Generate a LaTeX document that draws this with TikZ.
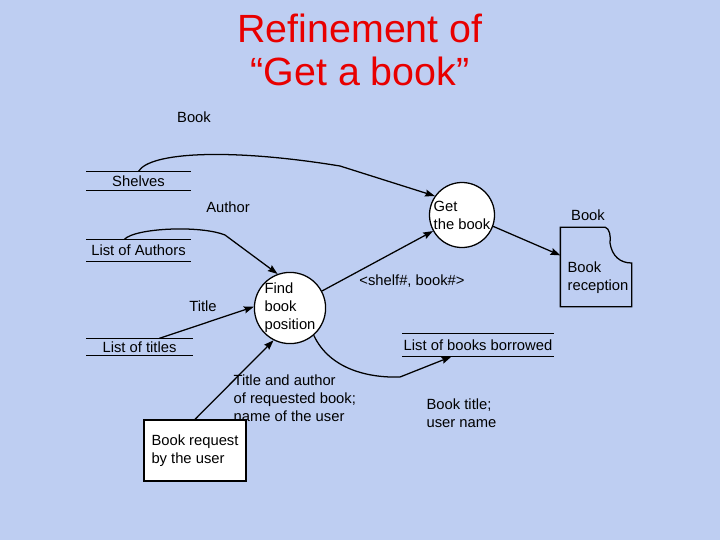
\documentclass[tikz,border=0pt]{standalone}
\usepackage{fontspec}
\setmainfont{Liberation Sans}
\usepackage{xcolor}
\usetikzlibrary{arrows.meta,positioning,calc}
\definecolor{paper}{RGB}{190,206,242}
\definecolor{titlered}{RGB}{232,0,0}

\begin{document}
\begin{tikzpicture}[x=0.025cm,y=-0.025cm,line width=0.9pt,
  font=\fontsize{10.5}{12.8}\selectfont,>={Stealth[length=7pt,width=5pt,inset=1pt]},
  proc/.style={draw,circle,fill=white,inner sep=0pt,align=left},
  store/.style={minimum height=#1,inner sep=0pt},
  lbl/.style={align=left,inner sep=0pt}]
  % background and title
  \fill[paper] (0,0) rectangle (720,540);
  \node[titlered,align=center,font=\fontsize{28}{31}\selectfont] (title) at (360,50) {Refinement of\\“Get a book”};

  % processes
  \node[proc,minimum size=1.625cm] (get) at (462,215) {Get\\the book};
  \node[proc,minimum size=1.75cm] (find) at (290,308) {Find\\book\\position};

  % data stores
  \node[store=0.45cm,minimum width=2.575cm] (shelves) at (138.5,181) {Shelves};
  \node[store=0.525cm,minimum width=2.575cm] (authors) at (138.5,250.5) {List of Authors};
  \node[store=0.4cm,minimum width=2.625cm] (titles) at (139.5,347) {List of titles};
  \node[store=0.55cm,minimum width=3.75cm] (borrowed) at (478,345) {List of books borrowed};
  \foreach \s in {shelves,authors,titles,borrowed}
    \draw (\s.north west) -- (\s.north east) (\s.south west) -- (\s.south east);

  % terminators
  \node[draw,fill=white,minimum width=2.55cm,minimum height=1.525cm,align=left] (request) at (195,450.5) {Book request\\by the user};
  \node[minimum width=1.75cm,minimum height=1.95cm,inner sep=0pt] (recv) at (596,267) {};
  \draw (recv.north west) -- ++(45,0) .. controls +(4,1) and (611,236) .. (610,243)
    .. controls (612,256) and (620,263) .. (recv.east |- 0,263) -- (recv.south east) -- (recv.south west) -- cycle;
  \node[lbl,anchor=west] (recvtxt) at (567,278) {Book\\reception};

  % flows
  \draw[->] (shelves.north) .. controls (150,152) and (230,148) .. (340,166) -- (get.145);
  \draw[->] ($(authors.north west)+(38,0)$) .. controls (135,228) and (200,225) .. (225,235) -- (find.110);
  \draw[->] ($(titles.north west)+(73,0)$) -- (find.178);
  \draw[->] (request.north) -- (find.243);
  \draw[->] (find.28) -- (get.209);
  \draw[->] (find.311) .. controls (330,370) and (370,378) .. (400,377) -- ($(borrowed.south west)+(49,0)$);
  \draw[->] (get.340) -- ($(recv.north west)+(0,28)$);

  % flow labels
  \node[lbl] (lbook) at (194,117) {Book};
  \node[lbl] (lauthor) at (228,207) {Author};
  \node[lbl] (ltitle) at (203,306) {Title};
  \node[lbl] (lshelf) at (412,281) {<shelf\#, book\#>};
  \node[lbl] (lbook2) at (588,215) {Book};
  \node[lbl,anchor=west] (lreq) at (233,398.5) {Title and author\\of requested book;\\name of the user};
  \node[lbl,anchor=west] (lborrow) at (426,413) {Book title;\\user name};
\end{tikzpicture}
\end{document}
